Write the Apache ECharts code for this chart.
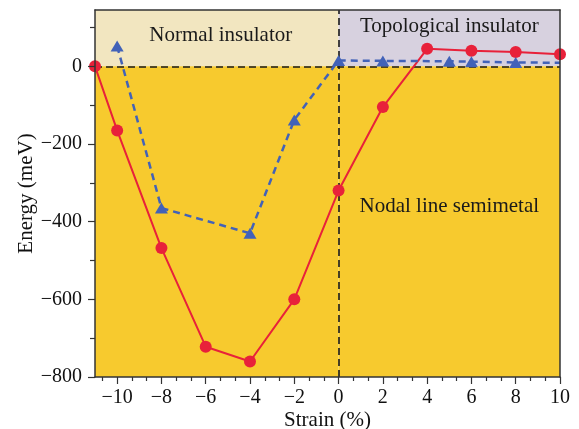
<!DOCTYPE html>
<html>
<head>
<meta charset="utf-8">
<script src="https://cdn.jsdelivr.net/npm/echarts@6/dist/echarts.min.js"></script>
<style>
html, body { margin: 0; padding: 0; background: #fff; }
#main { width: 579px; height: 429px; }
</style>
</head>
<body>
<div id="main"></div>
<script>
var strainRed = [-11, -10, -8, -6, -4, -2, 0, 2, 4, 6, 8, 10];
var energyRed = [0, -165, -468, -722, -760, -600, -320, -105, 45, 40, 37, 31];
var strainBlue = [-10, -8, -4, -2, 0, 2, 5, 6, 8, 10];
var energyBlue = [52, -365, -430, -138, 15, 14, 13, 12, 10, 9];
var xTicks = [-10, -8, -6, -4, -2, 0, 2, 4, 6, 8, 10];
var yTicks = [-800, -600, -400, -200, 0];
var yMinorTicks = [-700, -500, -300, -100, 100];
var phaseNames = ['Normal insulator', 'Topological insulator', 'Nodal line semimetal'];

var xMin = -11, xMax = 10, yMin = -800, yMax = 145;
var serif = 'Liberation Serif';

// minor ticks on x: thirds of each 2% step
var xMinorTicks = [];
[-12].concat(xTicks).forEach(function (t) {
    [2 / 3, 4 / 3].forEach(function (d) {
        var v = t + d;
        if (v > xMin && v < xMax) xMinorTicks.push(v);
    });
});

function minus(v) {
    return String(v).replace('-', '\u2212');
}

function pairs(xs, ys) {
    return xs.map(function (x, i) { return [x, ys[i]]; });
}

var blueData = pairs(strainBlue, energyBlue);
blueData[blueData.length - 1] = { value: blueData[blueData.length - 1], symbol: 'none' };

var myChart = echarts.init(document.getElementById('main'));
var frameColor = '#333';
var option = {
    animation: false,
    grid: { left: 95, right: 19, top: 10, bottom: 52, outerBoundsMode: 'none', containLabel: false },
    xAxis: [
        {
            type: 'value', min: xMin, max: xMax, position: 'bottom', z: 10,
            axisLine: { onZero: false, lineStyle: { color: frameColor, width: 1.5 } },
            axisTick: { customValues: xTicks, length: 7, lineStyle: { color: frameColor, width: 1.2 } },
            axisLabel: {
                customValues: xTicks, margin: 11, color: '#111',
                fontFamily: serif, fontSize: 20, formatter: minus
            },
            splitLine: { show: false },
            name: 'Strain (%)', nameLocation: 'middle', nameGap: 33, nameMoveOverlap: false,
            nameTextStyle: { fontFamily: serif, fontSize: 21, color: '#111' }
        },
        {
            type: 'value', min: xMin, max: xMax, position: 'bottom', z: 10,
            axisLine: { show: false, onZero: false },
            axisTick: { customValues: xMinorTicks, length: 4, lineStyle: { color: frameColor, width: 1.2 } },
            axisLabel: { show: false },
            splitLine: { show: false }
        },
        {
            type: 'value', min: xMin, max: xMax, position: 'top', z: 10,
            axisLine: { onZero: false, lineStyle: { color: frameColor, width: 1.5 } },
            axisTick: { show: false },
            axisLabel: { show: false },
            splitLine: { show: false }
        }
    ],
    yAxis: [
        {
            type: 'value', min: yMin, max: yMax, position: 'left', z: 10,
            axisLine: { onZero: false, lineStyle: { color: frameColor, width: 1.5 } },
            axisTick: { customValues: yTicks, length: 7, lineStyle: { color: frameColor, width: 1.2 } },
            axisLabel: {
                customValues: yTicks, margin: 13, color: '#111',
                fontFamily: serif, fontSize: 20, formatter: minus
            },
            splitLine: { show: false },
            name: 'Energy (meV)', nameLocation: 'middle', nameGap: 58, nameMoveOverlap: false,
            nameTextStyle: { fontFamily: serif, fontSize: 21, color: '#111' }
        },
        {
            type: 'value', min: yMin, max: yMax, position: 'left', z: 10,
            axisLine: { show: false, onZero: false },
            axisTick: { customValues: yMinorTicks, length: 5, lineStyle: { color: frameColor, width: 1.2 } },
            axisLabel: { show: false },
            splitLine: { show: false }
        },
        {
            type: 'value', min: yMin, max: yMax, position: 'right', z: 10,
            axisLine: { onZero: false, lineStyle: { color: frameColor, width: 1.5 } },
            axisTick: { show: false },
            axisLabel: { show: false },
            splitLine: { show: false }
        }
    ],
    series: [
        {
            type: 'line', data: [], z: 1,
            markArea: {
                silent: true, z: 1,
                label: { show: true, position: 'inside', fontFamily: serif, fontSize: 21, color: '#1a1a1a' },
                data: [
                    [{ name: phaseNames[0], xAxis: xMin, yAxis: 0, itemStyle: { color: '#f2e6c0' },
                       label: { offset: [4, -3] } },
                     { xAxis: 0, yAxis: yMax }],
                    [{ name: phaseNames[1], xAxis: 0, yAxis: 0, itemStyle: { color: '#d7d1df' },
                       label: { offset: [0, -12] } },
                     { xAxis: xMax, yAxis: yMax }],
                    [{ name: '', xAxis: xMin, yAxis: yMin, itemStyle: { color: '#f7ca2e' } },
                     { xAxis: 0, yAxis: 0 }],
                    [{ name: phaseNames[2], xAxis: 0, yAxis: yMin, itemStyle: { color: '#f7ca2e' },
                       label: { offset: [0, -15] } },
                     { xAxis: xMax, yAxis: 0 }]
                ]
            }
        },
        {
            type: 'line', data: [], z: 2,
            markLine: {
                silent: true, z: 2, symbol: 'none',
                label: { show: false },
                lineStyle: { color: '#1a1a1a', width: 1.6, type: [7, 4] },
                data: [{ yAxis: 0 }, { xAxis: 0 }]
            }
        },
        {
            name: 'red', type: 'line', z: 3,
            data: pairs(strainRed, energyRed),
            symbol: 'circle', symbolSize: 12,
            lineStyle: { color: '#e8213a', width: 2 },
            itemStyle: { color: '#e8213a' }
        },
        {
            name: 'blue', type: 'line', z: 3,
            data: blueData,
            symbol: 'triangle', symbolSize: [13, 11],
            lineStyle: { color: '#4262b8', width: 2.5, type: [7, 5] },
            itemStyle: { color: '#4262b8' }
        }
    ]
};
myChart.setOption(option);
</script>
</body>
</html>
